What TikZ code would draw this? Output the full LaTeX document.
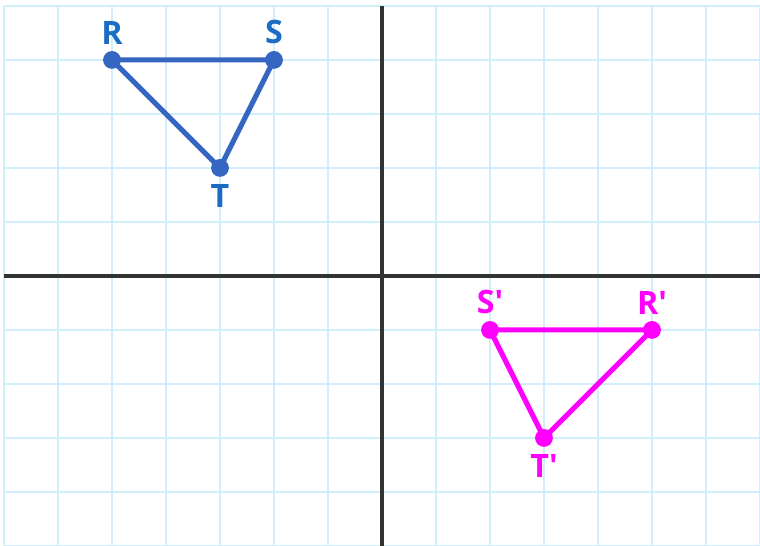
\documentclass[tikz,border=0pt]{standalone}
\usepackage{fontspec}
\setsansfont{Open Sans}
\definecolor{gitter}{HTML}{D0EEFC}
\definecolor{achse}{HTML}{333333}
\definecolor{urblau}{HTML}{3466C2}
\definecolor{urtext}{HTML}{1C6CC4}
\definecolor{bildpink}{HTML}{FF00FF}
\usepackage{tikz}
\usetikzlibrary{positioning}

\begin{document}
\begin{tikzpicture}[x=1cm, y=1cm,
    dotb/.style={circle, fill=urblau, inner sep=0pt, minimum size=0.33cm},
    dotp/.style={circle, fill=bildpink, inner sep=0pt, minimum size=0.33cm},
    edgeb/.style={urblau, line width=2.7pt, line join=round},
    edgep/.style={bildpink, line width=2.7pt, line join=round},
    labb/.style={urtext, font=\sffamily\bfseries\fontsize{17}{17}\selectfont, inner sep=1pt},
    labp/.style={bildpink, font=\sffamily\bfseries\fontsize{17}{17}\selectfont, inner sep=1pt}]
    \useasboundingbox (-7.074,-5.0) rectangle (7.0,5.11);
    % Gitter
    \foreach \gx in {-7,...,7}{%
      \draw[gitter, line width=1pt] (\gx, 5) -- (\gx, -5.0);
    }
    \foreach \gy in {-5,...,5}{%
      \draw[gitter, line width=1pt] (-7, \gy) -- (7, \gy);
    }
    % Achsen
    \draw[achse, line width=2.1pt] (0, 5) -- (0, -5.0);
    \draw[achse, line width=2.1pt] (-7, 0) -- (7, 0);
    % Urbild
    \coordinate (R) at (-5, 4);
    \coordinate (S) at (-2, 4);
    \coordinate (T) at (-3, 2);
    \draw[edgeb] (R) -- (S) -- (T) -- cycle;
    \node[dotb] (Rd) at (R) {};
    \node[dotb] (Sd) at (S) {};
    \node[dotb] (Td) at (T) {};
    \node[labb, above=0.08cm of Rd] (Rl) {R};
    \node[labb, above=0.08cm of Sd] (Sl) {S};
    \node[labb, below=0.1cm of Td] (Tl) {T};
    % Bild
    \coordinate (Rb) at (5, -1);
    \coordinate (Sb) at (2, -1);
    \coordinate (Tb) at (3, -3);
    \draw[edgep] (Rb) -- (Sb) -- (Tb) -- cycle;
    \node[dotp] (Rbd) at (Rb) {};
    \node[dotp] (Sbd) at (Sb) {};
    \node[dotp] (Tbd) at (Tb) {};
    \node[labp, above=0.08cm of Rbd] (Rbl) {R\textquotesingle};
    \node[labp, above=0.08cm of Sbd] (Sbl) {S\textquotesingle};
    \node[labp, below=0.1cm of Tbd] (Tbl) {T\textquotesingle};
  \end{tikzpicture}
\end{document}
